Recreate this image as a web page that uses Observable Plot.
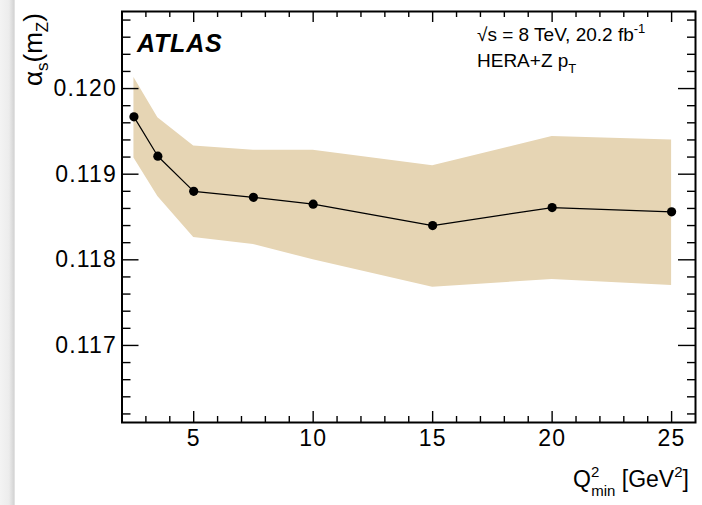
<!DOCTYPE html>
<html>
<head>
<meta charset="utf-8">
<script src="https://cdn.jsdelivr.net/npm/d3@7"></script>
<script src="https://cdn.jsdelivr.net/npm/@observablehq/plot@0.6"></script>
<style>
  html, body { margin: 0; padding: 0; background: #fff; }
  #wrap { position: relative; width: 702px; height: 505px; overflow: hidden; background: #fff; }
  #edge { position: absolute; left: 0; top: 0; width: 15px; height: 505px;
          background: linear-gradient(to right, #f3f3f3 0%, #ececec 60%, #d6d6d6 90%, #e8e8e8 100%); }
  #chart { position: absolute; left: 0; top: 0; }
</style>
</head>
<body>
<div id="wrap"><div id="edge"></div><div id="chart"></div></div>
<script>
// Data
const qmin = [2.5, 3.5, 5, 7.5, 10, 15, 20, 25];
const alphaS = [0.11967, 0.11921, 0.11880, 0.11873, 0.11865, 0.11840, 0.11861, 0.11856];
const bandHigh = [0.12013, 0.11966, 0.11933, 0.11928, 0.11928, 0.11910, 0.11944, 0.11940];
const bandLow = [0.11919, 0.11874, 0.11826, 0.11818, 0.11800, 0.11768, 0.11777, 0.11770];

const xMajorTicks = [5, 10, 15, 20, 25];
const xMinorTicks = [3, 4, 6, 7, 8, 9, 11, 12, 13, 14, 16, 17, 18, 19, 21, 22, 23, 24];
const yMajorTicks = [0.117, 0.118, 0.119, 0.120];
const yMinorTicks = [0.1162, 0.1164, 0.1166, 0.1168, 0.1172, 0.1174, 0.1176, 0.1178,
                     0.1182, 0.1184, 0.1186, 0.1188, 0.1192, 0.1194, 0.1196, 0.1198,
                     0.1202, 0.1204, 0.1206, 0.1208];

const data = qmin.map((q, i) => ({q, a: alphaS[i], lo: bandLow[i], hi: bandHigh[i]}));

const W = 702, H = 505;
const mL = 121.5, mR = 7, mT = 11, mB = 83;
const pw = W - mL - mR, ph = H - mT - mB;

const plot = Plot.plot({
  width: W, height: H,
  marginLeft: mL, marginRight: mR, marginTop: mT, marginBottom: mB,
  style: {fontFamily: "'Liberation Sans', Arial, sans-serif", fontSize: "23px", color: "#000", background: "transparent"},
  x: {domain: [2, 26]},
  y: {domain: [0.1161, 0.1209]},
  marks: [
    Plot.areaY(data, {x: "q", y1: "lo", y2: "hi", fill: "#e6d5b4", fillOpacity: 1}),
    Plot.line(data, {x: "q", y: "a", stroke: "#000", strokeWidth: 1.2}),
    Plot.dot(data, {x: "q", y: "a", r: 4.6, fill: "#000", stroke: "none"}),
    // inward ticks, bottom and top
    Plot.tickX(xMajorTicks, {x: d => d, insetTop: ph - 11, stroke: "#000", strokeWidth: 1.4}),
    Plot.tickX(xMinorTicks, {x: d => d, insetTop: ph - 6, stroke: "#000", strokeWidth: 1.4}),
    Plot.tickX(xMajorTicks, {x: d => d, insetBottom: ph - 11, stroke: "#000", strokeWidth: 1.4}),
    Plot.tickX(xMinorTicks, {x: d => d, insetBottom: ph - 6, stroke: "#000", strokeWidth: 1.4}),
    // inward ticks, left and right
    Plot.tickY(yMajorTicks, {y: d => d, insetRight: pw - 17, stroke: "#000", strokeWidth: 1.4}),
    Plot.tickY(yMinorTicks, {y: d => d, insetRight: pw - 9, stroke: "#000", strokeWidth: 1.4}),
    Plot.tickY(yMajorTicks, {y: d => d, insetLeft: pw - 17, stroke: "#000", strokeWidth: 1.4}),
    Plot.tickY(yMinorTicks, {y: d => d, insetLeft: pw - 8, stroke: "#000", strokeWidth: 1.4}),
    Plot.axisX({ticks: xMajorTicks, tickSize: 0, tickPadding: 7, label: null, fontSize: 23}),
    Plot.axisY({ticks: yMajorTicks, tickSize: 0, tickPadding: 5, label: null, fontSize: 23, tickFormat: d3.format(".3f")}),
    Plot.frame({stroke: "#000", strokeWidth: 2})
  ]
});

document.getElementById("chart").appendChild(plot);

const svg = d3.select(plot);
const font = "'Liberation Sans', Arial, sans-serif";

// widen tick labels slightly to match reference glyph widths
svg.selectAll('g[aria-label="x-axis tick label"] text, g[aria-label="y-axis tick label"] text')
  .style("letter-spacing", "1.2px");

// ATLAS label
svg.append("text")
  .attr("x", 137).attr("y", 52)
  .attr("text-anchor", "start")
  .attr("font-family", font).attr("font-size", 25)
  .attr("font-weight", "bold").attr("font-style", "italic")
  .style("letter-spacing", "0.8px")
  .attr("fill", "#000")
  .text("ATLAS");

// Legend text
const t1 = svg.append("text")
  .attr("x", 477).attr("y", 41).attr("text-anchor", "start")
  .attr("font-family", font).attr("font-size", 19).attr("fill", "#000");
t1.append("tspan").text("√s = 8 TeV, 20.2 fb");
t1.append("tspan").attr("dy", -8).attr("font-size", 13).text("-1");

const t2 = svg.append("text")
  .attr("x", 477).attr("y", 67).attr("text-anchor", "start")
  .attr("font-family", font).attr("font-size", 19).attr("fill", "#000");
t2.append("tspan").text("HERA+Z p");
t2.append("tspan").attr("dy", 6).attr("font-size", 13).text("T");

// Y axis title: alpha_s(m_Z)
const yt = svg.append("text")
  .attr("transform", "translate(42,86) rotate(-90)").attr("text-anchor", "start")
  .attr("font-family", font).attr("font-size", 26).attr("fill", "#000");
yt.append("tspan").text("α");
yt.append("tspan").attr("dy", 6).attr("font-size", 17).text("s");
yt.append("tspan").attr("dy", -6).text("(m");
yt.append("tspan").attr("dy", 6).attr("font-size", 17).text("Z");
yt.append("tspan").attr("dy", -6).text(")");

// X axis title: Q^2_min [GeV^2]
const xt = svg.append("text")
  .attr("x", 573).attr("y", 487).attr("text-anchor", "start")
  .attr("font-family", font).attr("font-size", 23).attr("fill", "#000");
xt.append("tspan").text("Q");
xt.append("tspan").attr("dy", -10).attr("font-size", 15).text("2");
xt.append("tspan").attr("dx", -8).attr("dy", 19).attr("font-size", 15).text("min");
xt.append("tspan").attr("dy", -9).text(" [GeV");
xt.append("tspan").attr("dy", -10).attr("font-size", 15).text("2");
xt.append("tspan").attr("dy", 10).text("]");
</script>
</body>
</html>
